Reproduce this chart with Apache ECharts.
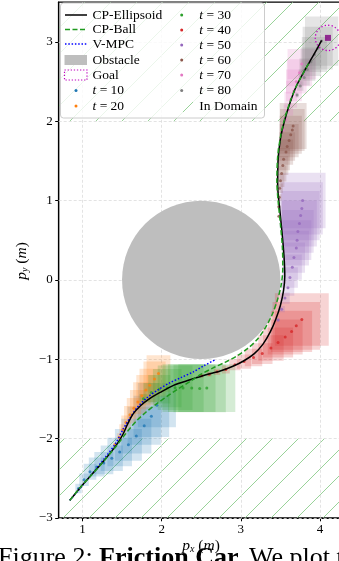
<!DOCTYPE html>
<html>
<head>
<meta charset="utf-8">
<script src="https://cdn.jsdelivr.net/npm/echarts@6/dist/echarts.min.js"></script>
<style>
  html, body { margin: 0; padding: 0; overflow: hidden; background: #fff; }
  #chart { width: 346px; height: 561px; }
</style>
</head>
<body>
<div id="chart"></div>
<script>
// Axis ticks
const xTicks = [1, 2, 3, 4];
const yTicks = [-3, -2, -1, 0, 1, 2, 3];

// Closed-loop trajectories (p_x, p_y)
const cpEllipsoid = [
  [0.84,-2.78],[0.95,-2.645],[1.095,-2.48],[1.263,-2.29],[1.43,-2.08],[1.51,-1.95],[1.57,-1.82],
  [1.64,-1.69],[1.73,-1.59],[1.83,-1.51],[1.98,-1.42],[2.15,-1.33],[2.36,-1.26],[2.55,-1.2],
  [2.74,-1.15],[2.9,-1.09],[3.04,-1.02],[3.17,-0.93],[3.28,-0.81],[3.37,-0.66],[3.44,-0.5],
  [3.5,-0.32],[3.54,-0.13],[3.555,0.05],[3.545,0.3],[3.52,0.6],[3.49,0.9],[3.465,1.2],
  [3.47,1.5],[3.5,1.78],[3.55,2.0],[3.62,2.23],[3.70,2.44],[3.79,2.61],[3.87,2.75],[3.95,2.89],[4.02,3.02]
];
const cpBall = [
  [0.84,-2.78],[0.95,-2.645],[1.1,-2.475],[1.27,-2.285],[1.44,-2.08],[1.53,-1.96],[1.61,-1.86],
  [1.68,-1.78],[1.8,-1.67],[1.94,-1.56],[2.08,-1.46],[2.2,-1.38],[2.36,-1.28],[2.5,-1.19],
  [2.65,-1.11],[2.8,-1.04],[2.95,-0.96],[3.08,-0.87],[3.2,-0.76],[3.3,-0.62],[3.39,-0.45],
  [3.46,-0.26],[3.51,-0.06],[3.53,0.15],[3.525,0.4],[3.5,0.7],[3.47,1.0],[3.455,1.25],
  [3.465,1.55],[3.5,1.8],[3.55,2.02],[3.62,2.24],[3.7,2.44],[3.79,2.61],[3.87,2.75]
];
const vMpc = [
  [0.84,-2.78],[0.96,-2.64],[1.1,-2.47],[1.28,-2.25],[1.42,-2.06],[1.515,-1.88],[1.6,-1.74],
  [1.7,-1.6],[1.81,-1.49],[1.95,-1.39],[2.1,-1.30],[2.25,-1.23],[2.4,-1.16],[2.54,-1.08],[2.67,-1.01]
];

// Obstacle and goal: [cx, cy, radius]
const obstacle = [2.5, 0.0, 1.0];
const goal = [4.1, 3.05, 0.16];

// Hatched state-space bands: [xMin, yMin, xMax, yMax]
const domainBands = [[0.7, 2, 4.3, 3.5], [0.7, -3, 4.3, -2]];

// Predicted rollouts from each time step: [p_x, p_y, half-width x, half-height y]
const rollT10 = [
  [0.95,-2.63,0.04,0.06],[1.02,-2.52,0.06,0.08],[1.095,-2.42,0.08,0.1],[1.18,-2.36,0.1,0.12],
  [1.27,-2.31,0.12,0.14],[1.37,-2.25,0.14,0.16],[1.47,-2.17,0.155,0.18],[1.58,-2.08,0.17,0.2],
  [1.68,-1.97,0.19,0.22],[1.78,-1.84,0.21,0.24],[1.87,-1.72,0.225,0.26],[1.94,-1.58,0.24,0.28]
];
const rollT20 = [
  [1.41,-2.08,0.02,0.03],[1.465,-1.985,0.03,0.05],[1.51,-1.89,0.045,0.07],[1.55,-1.80,0.06,0.09],
  [1.60,-1.70,0.075,0.11],[1.65,-1.62,0.09,0.13],[1.70,-1.54,0.1,0.15],[1.75,-1.46,0.11,0.17],
  [1.80,-1.39,0.12,0.19],[1.85,-1.33,0.13,0.21],[1.91,-1.25,0.14,0.22],[1.96,-1.18,0.15,0.23]
];
const rollT30 = [
  [1.77,-1.5,0.05,0.06],[1.87,-1.42,0.1,0.12],[1.97,-1.38,0.14,0.18],[2.07,-1.365,0.18,0.24],
  [2.17,-1.36,0.22,0.28],[2.27,-1.365,0.26,0.3],[2.38,-1.365,0.3,0.3],[2.48,-1.37,0.33,0.3],
  [2.57,-1.365,0.36,0.3]
];
const rollT40 = [
  [2.505,-1.21,0.02,0.02],[2.60,-1.19,0.03,0.03],[2.70,-1.16,0.04,0.04],[2.81,-1.13,0.05,0.05],
  [2.925,-1.07,0.07,0.07],[3.04,-1.03,0.09,0.09],[3.16,-0.98,0.11,0.11],[3.27,-0.93,0.13,0.13],
  [3.38,-0.86,0.16,0.16],[3.47,-0.79,0.19,0.19],[3.56,-0.72,0.22,0.22],[3.64,-0.65,0.26,0.26],
  [3.70,-0.58,0.3,0.3],[3.77,-0.50,0.34,0.33]
];
const rollT50 = [
  [3.47,-0.505,0.02,0.02],[3.515,-0.37,0.04,0.04],[3.557,-0.23,0.06,0.07],[3.595,-0.10,0.08,0.1],
  [3.62,0.03,0.1,0.13],[3.65,0.16,0.12,0.16],[3.67,0.28,0.14,0.19],[3.70,0.40,0.16,0.22],
  [3.71,0.50,0.18,0.25],[3.72,0.61,0.2,0.27],[3.74,0.71,0.22,0.29],[3.755,0.81,0.24,0.31],
  [3.77,0.90,0.265,0.33],[3.78,1.00,0.29,0.35]
];
const rollT60 = [
  [3.48,0.80,0.01,0.01],[3.48,0.92,0.02,0.02],[3.485,1.04,0.03,0.04],[3.49,1.155,0.04,0.06],
  [3.50,1.25,0.05,0.08],[3.515,1.34,0.06,0.1],[3.53,1.44,0.07,0.12],[3.54,1.52,0.08,0.14],
  [3.57,1.61,0.09,0.16],[3.585,1.68,0.1,0.18],[3.61,1.755,0.12,0.21],[3.63,1.83,0.14,0.24],
  [3.65,1.89,0.155,0.265],[3.66,1.94,0.17,0.29]
];
const rollT70 = [
  [3.535,1.89,0.02,0.02],[3.565,2.02,0.04,0.04],[3.60,2.14,0.06,0.07],[3.63,2.27,0.08,0.1],
  [3.67,2.38,0.1,0.13],[3.70,2.50,0.13,0.15],[3.74,2.61,0.16,0.17],[3.77,2.72,0.18,0.19]
];
const rollT80 = [
  [3.71,2.33,0.02,0.03],[3.75,2.445,0.04,0.06],[3.80,2.55,0.07,0.1],[3.84,2.65,0.1,0.14],
  [3.885,2.75,0.13,0.18],[3.93,2.84,0.16,0.22],[3.97,2.92,0.19,0.27],[4.02,3.01,0.21,0.31]
];

const rollouts = [
  { label: '10', color: '#1f77b4', data: rollT10 },
  { label: '20', color: '#ff7f0e', data: rollT20 },
  { label: '30', color: '#2ca02c', data: rollT30 },
  { label: '40', color: '#d62728', data: rollT40 },
  { label: '50', color: '#9467bd', data: rollT50 },
  { label: '60', color: '#8c564b', data: rollT60 },
  { label: '70', color: '#e377c2', data: rollT70 },
  { label: '80', color: '#7f7f7f', data: rollT80 }
];

const SERIF = '"Liberation Serif", "DejaVu Serif", serif';
const C_ELL = '#000000', C_BALL = '#1f9a1f', C_VMPC = '#0000ff';
const C_OBS = '#bebebe', C_GOAL = '#bf00bf', C_GOALPT = '#800080';
const HATCH_STROKE = '#98d298';
const HATCH_STEP = 26, HATCH_PHASE = 9;

function rgba(hex, a) {
  const n = parseInt(hex.slice(1), 16);
  return 'rgba(' + ((n >> 16) & 255) + ',' + ((n >> 8) & 255) + ',' + (n & 255) + ',' + a + ')';
}

// '/' hatch lines (x + y = c in screen pixels) clipped to a pixel rectangle
function hatchLines(x0, y0, x1, y1, z) {
  const out = [];
  const cStart = Math.ceil((x0 + y0 - HATCH_PHASE) / HATCH_STEP) * HATCH_STEP + HATCH_PHASE;
  for (let c = cStart; c <= x1 + y1; c += HATCH_STEP) {
    const xa = Math.max(x0, c - y1), xb = Math.min(x1, c - y0);
    if (xb - xa > 0.2) {
      out.push({ type: 'line', silent: true, z: z,
        shape: { x1: xa, y1: c - xa, x2: xb, y2: c - xb },
        style: { stroke: HATCH_STROKE, fill: null, lineWidth: 1 } });
    }
  }
  return out;
}

const series = [];

// Obstacle disc (+ dashed grid lines)
series.push({
  type: 'custom', clip: true, silent: true, z: 2,
  data: [obstacle],
  renderItem: function (params, api) {
    const c = api.coord([api.value(0), api.value(1)]);
    const r = api.size([api.value(2), 0])[0];
    return { type: 'circle', shape: { cx: c[0], cy: c[1], r: r }, style: { fill: C_OBS, stroke: null } };
  },
  markLine: {
    silent: true, symbol: 'none', label: { show: false }, animation: false, z: 1,
    lineStyle: { color: '#dcdcdc', width: 0.8, type: [3, 2] },
    data: xTicks.map(v => ({ xAxis: v })).concat(yTicks.map(v => ({ yAxis: v })))
  }
});

// Rollout boxes
rollouts.forEach(function (g) {
  const fill = rgba(g.color, 0.2);
  series.push({
    type: 'custom', clip: true, silent: true, z: 3,
    data: g.data,
    renderItem: function (params, api) {
      const x = api.value(0), y = api.value(1), hw = api.value(2), hh = api.value(3);
      const p0 = api.coord([x - hw, y + hh]);
      const p1 = api.coord([x + hw, y - hh]);
      return { type: 'rect', shape: { x: p0[0], y: p0[1], width: p1[0] - p0[0], height: p1[1] - p0[1] },
        style: { fill: fill, stroke: null } };
    }
  });
});

// Rollout points
rollouts.forEach(function (g) {
  series.push({
    type: 'scatter', silent: true, z: 4,
    symbolSize: 3,
    itemStyle: { color: g.color },
    data: g.data.map(p => [p[0], p[1]])
  });
});

// Closed-loop paths
function pathSeries(data, color, type) {
  return {
    type: 'line', silent: true, z: 5, showSymbol: false, smooth: 0.3,
    lineStyle: { color: color, width: 1.5, type: type },
    data: data
  };
}
series.push(pathSeries(vMpc, C_VMPC, [1.5, 1.8]));
series.push(pathSeries(cpEllipsoid, C_ELL, 'solid'));
series.push(pathSeries(cpBall, C_BALL, [5, 2.5]));

// Goal region
series.push({
  type: 'custom', clip: true, silent: true, z: 6,
  data: [goal],
  renderItem: function (params, api) {
    const c = api.coord([api.value(0), api.value(1)]);
    const r = api.size([api.value(2), 0])[0];
    return { type: 'circle', shape: { cx: c[0], cy: c[1], r: r },
      style: { fill: null, stroke: C_GOAL, lineWidth: 1.3, lineDash: [1.3, 2.2] } };
  }
});
series.push({
  type: 'scatter', silent: true, z: 6, symbol: 'rect', symbolSize: 6,
  itemStyle: { color: C_GOALPT },
  data: [[goal[0], goal[1]]]
});

// Legend drawn as graphics
const LX = 60.5, LY = 3, LW = 204, LH = 115;
const leftRows = [15, 29.5, 44, 60, 75, 90.5, 106];
const rightRows = [15, 30, 45, 60, 75, 90.5, 106];
const legendFont = 13.5;
const richT = {
  i: { fontFamily: SERIF, fontSize: legendFont, fontStyle: 'italic', color: '#000' },
  r: { fontFamily: SERIF, fontSize: legendFont, color: '#000' }
};
function legendText(x, y, txt, rich) {
  return { type: 'text', z: 101, silent: true,
    style: { x: x, y: y, text: txt, rich: rich || undefined, font: legendFont + 'px ' + SERIF, fill: '#000',
      align: 'left', verticalAlign: 'middle', textAlign: 'left', textVerticalAlign: 'middle' } };
}
const gfx = [];
gfx.push({ type: 'rect', z: 100, silent: true,
  shape: { x: LX, y: LY, width: LW, height: LH, r: 3 },
  style: { fill: 'rgba(255,255,255,0.8)', stroke: '#cccccc', lineWidth: 1 } });
gfx.push({ type: 'line', z: 101, silent: true, shape: { x1: 65, y1: leftRows[0], x2: 87, y2: leftRows[0] },
  style: { stroke: C_ELL, lineWidth: 1.5 } });
gfx.push(legendText(92.5, leftRows[0], 'CP-Ellipsoid'));
gfx.push({ type: 'line', z: 101, silent: true, shape: { x1: 65, y1: leftRows[1], x2: 87, y2: leftRows[1] },
  style: { stroke: C_BALL, lineWidth: 1.5, lineDash: [5, 2.5] } });
gfx.push(legendText(92.5, leftRows[1], 'CP-Ball'));
gfx.push({ type: 'line', z: 101, silent: true, shape: { x1: 65, y1: leftRows[2], x2: 87, y2: leftRows[2] },
  style: { stroke: C_VMPC, lineWidth: 1.5, lineDash: [1.5, 1.8] } });
gfx.push(legendText(92.5, leftRows[2], 'V-MPC'));
gfx.push({ type: 'rect', z: 101, silent: true, shape: { x: 64.5, y: leftRows[3] - 5, width: 22.5, height: 10 },
  style: { fill: C_OBS } });
gfx.push(legendText(92.5, leftRows[3], 'Obstacle'));
gfx.push({ type: 'rect', z: 101, silent: true, shape: { x: 64.5, y: leftRows[4] - 5, width: 22.5, height: 10 },
  style: { fill: null, stroke: C_GOAL, lineWidth: 1.2, lineDash: [1.3, 1.8] } });
gfx.push(legendText(92.5, leftRows[4], 'Goal'));
[0, 1].forEach(function (k) {
  const g = rollouts[k];
  gfx.push({ type: 'circle', z: 101, silent: true, shape: { cx: 76, cy: leftRows[5 + k], r: 1.5 }, style: { fill: g.color } });
  gfx.push(legendText(92.5, leftRows[5 + k], '{i|t}{r| = ' + g.label + '}', richT));
});
for (let k = 2; k < rollouts.length; k++) {
  const g = rollouts[k];
  gfx.push({ type: 'circle', z: 101, silent: true, shape: { cx: 181.7, cy: rightRows[k - 2], r: 1.5 }, style: { fill: g.color } });
  gfx.push(legendText(199.3, rightRows[k - 2], '{i|t}{r| = ' + g.label + '}', richT));
}
hatchLines(170, rightRows[6] - 6, 193, rightRows[6] + 6, 101).forEach(function (l) { gfx.push(l); });
gfx.push(legendText(199.3, rightRows[6], 'In Domain'));

// Axis titles
const richAxis = {
  i: { fontFamily: SERIF, fontSize: 15.5, fontStyle: 'italic', color: '#000', lineHeight: 17 },
  r: { fontFamily: SERIF, fontSize: 15.5, color: '#000', lineHeight: 17 },
  s: { fontFamily: SERIF, fontSize: 10, fontStyle: 'italic', color: '#000', lineHeight: 10, verticalAlign: 'bottom' }
};
gfx.push({ type: 'text', z: 50, silent: true,
  style: { x: 201, y: 546, text: '{i|p}{s|x}{r| (}{i|m}{r|)}', rich: richAxis,
    align: 'center', verticalAlign: 'middle', textAlign: 'center', textVerticalAlign: 'middle' } });
gfx.push({ type: 'text', z: 50, silent: true, x: 21.5, y: 261, rotation: Math.PI / 2,
  style: { x: 0, y: 0, text: '{i|p}{s|y}{r| (}{i|m}{r|)}', rich: richAxis,
    align: 'center', verticalAlign: 'middle', textAlign: 'center', textVerticalAlign: 'middle' } });

// Figure caption
gfx.push({ type: 'text', z: 50, silent: true,
  style: { x: -2, y: 558, text: '{r|Figure 2: }{b|Friction Car.}{r| We plot the}',
    rich: {
      r: { fontFamily: SERIF, fontSize: 26, color: '#000' },
      b: { fontFamily: SERIF, fontSize: 26, fontWeight: 'bold', color: '#000' }
    },
    align: 'left', verticalAlign: 'middle', textAlign: 'left', textVerticalAlign: 'middle' } });

const minusFmt = v => String(v).replace('-', '\u2212');

const chart = echarts.init(document.getElementById('chart'), null, { renderer: 'canvas' });
chart.setOption({
  animation: false,
  backgroundColor: '#ffffff',
  grid: { left: 58.7, top: 2.2, width: 285.1, height: 515.6, show: true, borderColor: '#000', borderWidth: 1.2, backgroundColor: 'transparent' },
  xAxis: {
    type: 'value', min: 0.7, max: 4.3,
    axisLine: { show: true, onZero: false, lineStyle: { color: '#000', width: 1.2 } },
    axisTick: { show: true, customValues: xTicks, length: 3.5, lineStyle: { color: '#000', width: 1 } },
    axisLabel: { customValues: xTicks, margin: 5, color: '#000', fontFamily: SERIF, fontSize: 13, formatter: minusFmt },
    splitLine: { show: false }
  },
  yAxis: {
    type: 'value', min: -3, max: 3.5,
    axisLine: { show: true, onZero: false, lineStyle: { color: '#000', width: 1.2 } },
    axisTick: { show: true, customValues: yTicks, length: 3.5, lineStyle: { color: '#000', width: 1 } },
    axisLabel: { customValues: yTicks, margin: 6, color: '#000', fontFamily: SERIF, fontSize: 13, formatter: minusFmt },
    splitLine: { show: false }
  },
  graphic: { elements: gfx },
  series: series
});

// Hatched bands, placed through the axis scales once the grid is laid out
const bandLines = [];
domainBands.forEach(function (b) {
  const p0 = chart.convertToPixel({ gridIndex: 0 }, [b[0], b[3]]);
  const p1 = chart.convertToPixel({ gridIndex: 0 }, [b[2], b[1]]);
  hatchLines(p0[0], p0[1], p1[0], p1[1], 0).forEach(function (l) { bandLines.push(l); });
});
chart.setOption({ graphic: { elements: gfx.concat([{ type: 'group', z: 0, silent: true, children: bandLines,
  clipPath: { type: 'rect', shape: { x: 58.7, y: 2.2, width: 285.1, height: 515.6 } } }]) } });
</script>
</body>
</html>
